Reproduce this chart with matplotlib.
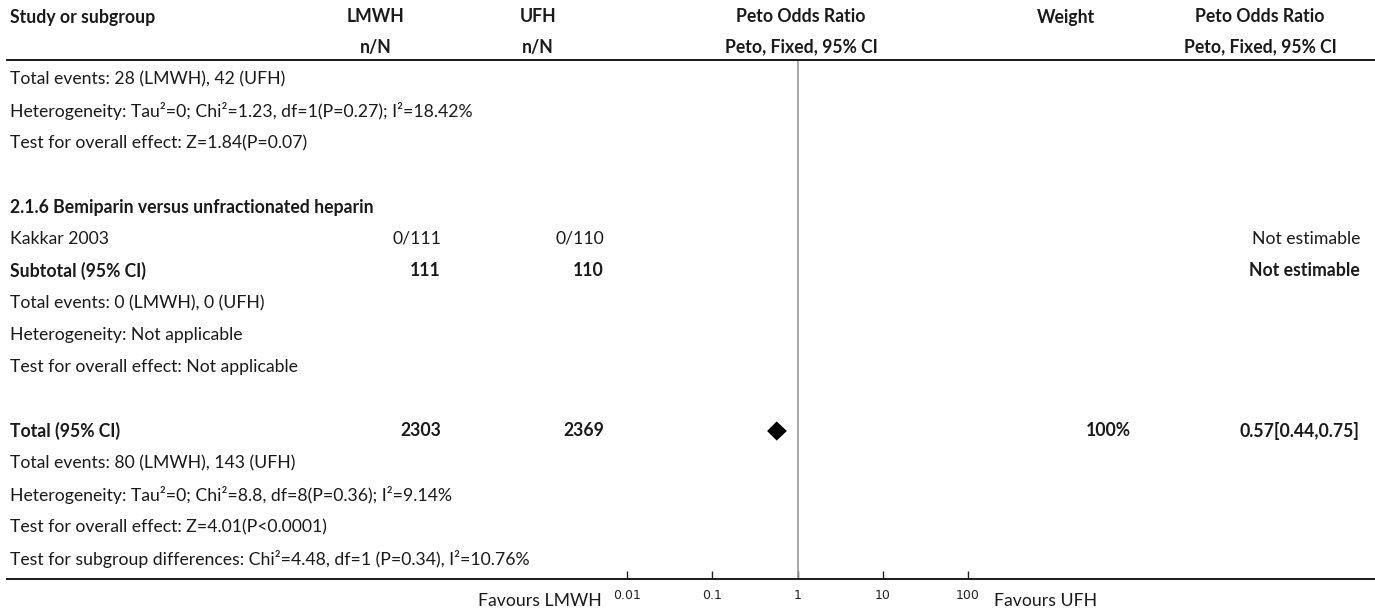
import matplotlib
matplotlib.use('Agg')
import matplotlib.pyplot as plt
from matplotlib import transforms
from matplotlib.lines import Line2D

plt.rcParams['font.family'] = ['Lato', 'DejaVu Sans']

# 表格各列内容
study = ['Total events: 28 (LMWH), 42 (UFH)',
         'Heterogeneity: Tau²=0; Chi²=1.23, df=1(P=0.27); I²=18.42%',
         'Test for overall effect: Z=1.84(P=0.07)',
         '',
         '2.1.6 Bemiparin versus unfractionated heparin',
         'Kakkar 2003',
         'Subtotal (95% CI)',
         'Total events: 0 (LMWH), 0 (UFH)',
         'Heterogeneity: Not applicable',
         'Test for overall effect: Not applicable',
         '',
         'Total (95% CI)',
         'Total events: 80 (LMWH), 143 (UFH)',
         'Heterogeneity: Tau²=0; Chi²=8.8, df=8(P=0.36); I²=9.14%',
         'Test for overall effect: Z=4.01(P<0.0001)',
         'Test for subgroup differences: Chi²=4.48, df=1 (P=0.34), I²=10.76%']
lmwh = ['', '', '', '', '', '0/111', '111', '', '', '', '', '2303', '', '', '', '']
ufh = ['', '', '', '', '', '0/110', '110', '', '', '', '', '2369', '', '', '', '']
weight = ['', '', '', '', '', '', '', '', '', '', '', '100%', '', '', '', '']
or_text = ['', '', '', '', '', 'Not estimable', 'Not estimable', '', '', '', '',
           '0.57[0.44,0.75]', '', '', '', '']
bold_rows = [4, 6, 11]

header1 = ['Study or subgroup', 'LMWH', 'UFH', 'Peto Odds Ratio', 'Weight', 'Peto Odds Ratio']
header2 = ['', 'n/N', 'n/N', 'Peto, Fixed, 95% CI', '', 'Peto, Fixed, 95% CI']

# 合并效应 (菱形)
pooled_row = 11
pooled_or = 0.57
pooled_lo = 0.44
pooled_hi = 0.75

xticks = [0.01, 0.1, 1, 10, 100]
xtick_labels = ['0.01', '0.1', '1', '10', '100']

W, H = 1375, 610
y_top, y_bot = 60, 579      # 表头线 / 底线 (像素)
row0, row_h = 79, 32

fig = plt.figure(figsize=(W / 100, H / 100), dpi=100)
ax = fig.add_axes([627 / W, (H - y_bot) / H, 341 / W, (y_bot - y_top) / H])
ax.set_xscale('log')
ax.set_xlim(0.01, 100)
nrows = len(study)
ax.set_ylim((y_bot - row0) / row_h, (y_top - row0) / row_h)
for s in ['top', 'left', 'right', 'bottom']:
    ax.spines[s].set_visible(False)
ax.set_yticks([])
ax.set_xticks(xticks)
ax.set_xticklabels(xtick_labels, family='DejaVu Sans')
ax.minorticks_off()
ax.tick_params(axis='x', direction='in', length=6, width=1, pad=7,
               labelsize=9, color='#222222', labelcolor='#222222')
ax.patch.set_alpha(0)

# 无效线
ax.axvline(1, color='#999999', lw=1.2)

# 菱形
ax.fill([pooled_lo, pooled_or, pooled_hi, pooled_or],
        [pooled_row, pooled_row - 0.3, pooled_row, pooled_row + 0.3],
        color='black', lw=0)

tr = transforms.blended_transform_factory(fig.transFigure, ax.transData)
fs = 12.7
txt = '#1a1a1a'
for i in range(nrows):
    fw = 'bold' if i in bold_rows else 'normal'
    ax.text(10 / W, i, study[i], transform=tr, ha='left', va='center',
            fontsize=fs, fontweight=fw, color=txt)
    ax.text(441 / W, i, lmwh[i], transform=tr, ha='right', va='center',
            fontsize=fs, fontweight=fw, color=txt)
    ax.text(604 / W, i, ufh[i], transform=tr, ha='right', va='center',
            fontsize=fs, fontweight=fw, color=txt)
    ax.text(1131 / W, i, weight[i], transform=tr, ha='right', va='center',
            fontsize=fs, fontweight=fw, color=txt)
    ax.text(1360 / W, i, or_text[i], transform=tr, ha='right', va='center',
            fontsize=fs, fontweight=fw, color=txt)

# 表头
for y, row in [(1 - 17 / H, header1), (1 - 47 / H, header2)]:
    fig.text(10 / W, y, row[0], ha='left', va='center', fontsize=fs, fontweight='bold', color=txt)
    fig.text(376 / W, y, row[1], ha='center', va='center', fontsize=fs, fontweight='bold', color=txt)
    fig.text(538 / W, y, row[2], ha='center', va='center', fontsize=fs, fontweight='bold', color=txt)
    fig.text(801 / W, y, row[3], ha='center', va='center', fontsize=fs, fontweight='bold', color=txt)
    fig.text(1066 / W, y, row[4], ha='center', va='center', fontsize=fs, fontweight='bold', color=txt)
    fig.text(1260 / W, y, row[5], ha='center', va='center', fontsize=fs, fontweight='bold', color=txt)

# 上下横线
fig.add_artist(Line2D([0.005, 1], [1 - y_top / H] * 2, transform=fig.transFigure, color='#1a1a1a', lw=1.4))
fig.add_artist(Line2D([0.005, 1], [(H - y_bot) / H] * 2, transform=fig.transFigure, color='#1a1a1a', lw=1.4))

fig.text(602 / W, (H - 601) / H, 'Favours LMWH', ha='right', va='center', fontsize=fs, color=txt)
fig.text(994 / W, (H - 601) / H, 'Favours UFH', ha='left', va='center', fontsize=fs, color=txt)

fig.savefig('out.png', dpi=100)
